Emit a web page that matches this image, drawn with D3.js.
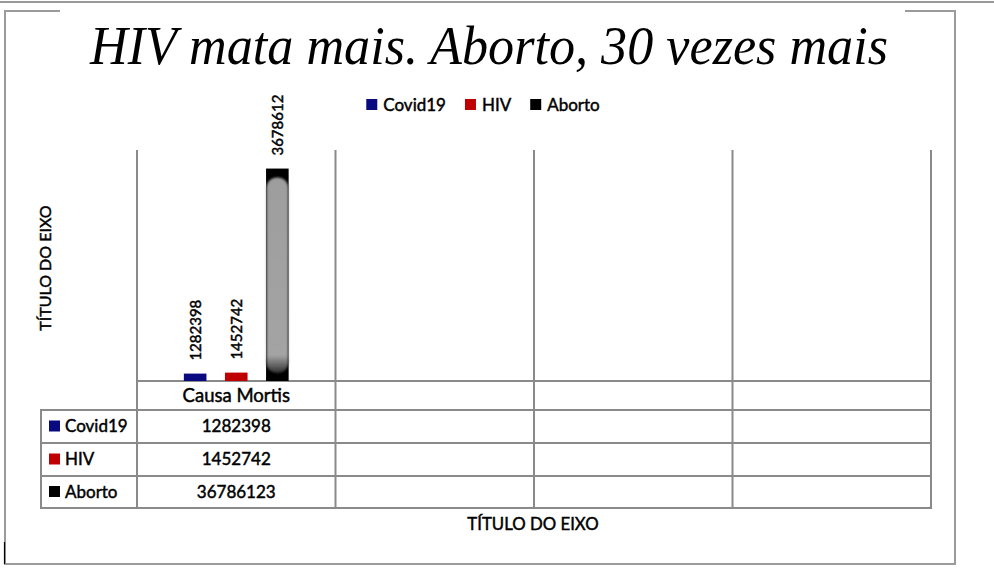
<!DOCTYPE html>
<html>
<head>
<meta charset="utf-8">
<script src="https://cdn.jsdelivr.net/npm/d3@7"></script>
<style>
  html, body { margin: 0; padding: 0; background: #fff; }
  svg { display: block; }
  text { font-family: Lato, "Open Sans", sans-serif; fill: #000; }
  text.ui { stroke: #000; stroke-width: 0.45px; }
</style>
</head>
<body>
<svg id="chart" width="994" height="572"></svg>
<script>
// Data
const categories = ["Causa Mortis", "", "", ""];
const series = ["Covid19", "HIV", "Aborto"];
const values = [1282398, 1452742, 36786123];
const colors = ["#0a0a80", "#c00000", "#000000"];
const yDomain = [0, 40000000];
const titleText = "HIV mata mais. Aborto, 30 vezes mais";
const axisTitle = "TÍTULO DO EIXO";

const svg = d3.select("#chart");
const W = 994, H = 572;

// Plot geometry
const plot = { left: 137, right: 931, top: 150, bottom: 381 };
const tableLeft = 41;
const rowEdges = [381, 410, 443, 476, 508];

const x = d3.scaleBand().domain(d3.range(categories.length)).range([plot.left, plot.right]).padding(0);
const xs = d3.scaleBand().domain(series).range([0, x.bandwidth()]).paddingInner(0.45).paddingOuter(1.14);
const y = d3.scaleLinear().domain(yDomain).range([plot.bottom, plot.top]);

const defs = svg.append("defs");
defs.append("filter").attr("id", "soft").attr("x", "-20%").attr("y", "-5%").attr("width", "140%").attr("height", "110%")
  .append("feGaussianBlur").attr("stdDeviation", 0.8);
const grad = defs.append("linearGradient").attr("id", "aborto-fill").attr("x1", 0).attr("y1", 0).attr("x2", 0).attr("y2", 1);
grad.append("stop").attr("offset", "0%").attr("stop-color", "#9e9e9e");
grad.append("stop").attr("offset", "91%").attr("stop-color", "#a4a4a4");
grad.append("stop").attr("offset", "100%").attr("stop-color", "#303030");
// value labels are cut off just below the legend line
defs.append("clipPath").attr("id", "label-clip")
  .append("rect").attr("x", 0).attr("y", 95).attr("width", W).attr("height", H);

// Outer frame
svg.append("line").attr("x1", 0).attr("x2", W).attr("y1", 2).attr("y2", 2)
  .attr("stroke", "#777").attr("stroke-width", 1.5);
const frame = svg.append("g").attr("fill", "none").attr("stroke", "#9a9a9a").attr("stroke-width", 2);
frame.append("path").attr("d", "M60,11 H5 V564 H955 V11 H905");
svg.append("line").attr("x1", 4.5).attr("x2", 4.5).attr("y1", 542).attr("y2", 564)
  .attr("stroke", "#000").attr("stroke-width", 1.2);

// Title
svg.append("text").attr("x", 489).attr("y", 64).attr("text-anchor", "middle")
  .style("font-family", "'Liberation Serif', 'DejaVu Serif', serif")
  .style("font-style", "italic").style("font-size", "54px")
  .attr("textLength", 798).attr("lengthAdjust", "spacingAndGlyphs")
  .text(titleText);

// Legend
const legend = svg.append("g");
let lx = 0;
series.forEach((s, i) => {
  const g = legend.append("g").attr("transform", `translate(${lx},0)`);
  g.append("rect").attr("x", 0).attr("y", 99).attr("width", 11).attr("height", 11).attr("fill", colors[i]);
  const t = g.append("text").attr("class", "ui").attr("x", 17).attr("y", 111).style("font-size", "17px").text(s);
  lx += 17 + t.node().getComputedTextLength() + 19;
});
legend.attr("transform", `translate(${483 - (lx - 19) / 2},0)`);

// Gridlines (category boundaries), extended through the data table
const grid = svg.append("g").attr("stroke", "#8a8a8a").attr("stroke-width", 2);
const bounds = x.domain().map(d => x(d)).concat([plot.right]);
bounds.forEach(b => {
  grid.append("line").attr("x1", b).attr("x2", b).attr("y1", plot.top).attr("y2", rowEdges[rowEdges.length - 1]);
});
grid.append("line").attr("x1", tableLeft).attr("x2", tableLeft).attr("y1", rowEdges[1]).attr("y2", rowEdges[rowEdges.length - 1]);
rowEdges.forEach((r, i) => {
  grid.append("line").attr("x1", i === 0 ? plot.left - 1 : tableLeft - 1).attr("x2", plot.right + 1).attr("y1", r).attr("y2", r);
});

// Bars
const band0 = x(0);
const bars = svg.append("g");
series.forEach((s, i) => {
  const bx = band0 + xs(s), bw = xs.bandwidth();
  const top = y(values[i]), h = y(0) - top;
  bars.append("rect").attr("x", bx).attr("y", top).attr("width", bw).attr("height", h).attr("fill", colors[i]);
  if (s === "Aborto") {
    bars.append("rect").attr("x", bx + 0.4).attr("y", top + 9).attr("width", bw - 0.8).attr("height", h - 17)
      .attr("rx", bw / 2 - 1).attr("fill", "url(#aborto-fill)").attr("filter", "url(#soft)");
  }
});

// Bar value labels
const labels = svg.append("g").attr("clip-path", "url(#label-clip)");
series.forEach((s, i) => {
  const cx = band0 + xs(s) + xs.bandwidth() / 2;
  const ly = y(values[i]) - 13;
  labels.append("text").attr("class", "ui").attr("transform", `translate(${cx},${ly}) rotate(-90)`)
    .attr("dy", "0.36em").style("font-size", "15px").text(values[i]);
});

// Category label
svg.append("text").attr("class", "ui").attr("x", x(0) + x.bandwidth() / 2).attr("y", 402).attr("text-anchor", "middle")
  .style("font-size", "18.5px").text(categories[0]);

// Data table rows
series.forEach((s, i) => {
  const r0 = rowEdges[i + 1], r1 = rowEdges[i + 2];
  const cy = (r0 + r1) / 2;
  svg.append("rect").attr("x", 49).attr("y", cy - 6).attr("width", 11).attr("height", 11).attr("fill", colors[i]);
  svg.append("text").attr("class", "ui").attr("x", 65).attr("y", cy).attr("dy", "0.35em").style("font-size", "17px").text(s);
  svg.append("text").attr("class", "ui").attr("x", x(0) + x.bandwidth() / 2).attr("y", cy).attr("dy", "0.35em")
    .attr("text-anchor", "middle").style("font-size", "17px").text(values[i]);
});

// Axis titles
svg.append("text").attr("class", "ui").attr("transform", "translate(45,268) rotate(-90)").attr("text-anchor", "middle")
  .attr("dy", "0.35em").style("font-size", "16px").text(axisTitle);
svg.append("text").attr("class", "ui").attr("x", 533).attr("y", 530).attr("text-anchor", "middle")
  .style("font-size", "16.8px").text(axisTitle);
</script>
</body>
</html>
